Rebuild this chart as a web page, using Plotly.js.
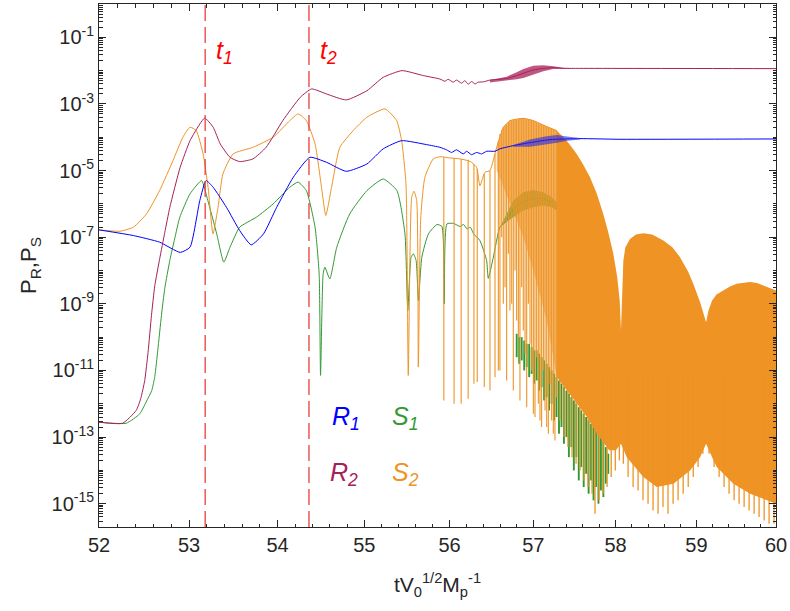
<!DOCTYPE html>
<html><head><meta charset="utf-8">
<script src="https://cdn.plot.ly/plotly-3.0.1.min.js"></script>
<style>html,body{margin:0;padding:0;background:#fff;}#chart{width:790px;height:611px;}</style>
</head><body><div id="chart"></div>
<script>
// ---------- data ----------
const markerTimes = [53.18, 54.36];
const markerNames = ['t<sub>1</sub>', 't<sub>2</sub>'];

const xTicks = [52, 53, 54, 55, 56, 57, 58, 59, 60];
const yRange = [2e-16, 1];
const yLabelExps = [-15,-13,-11,-9,-7,-5,-3,-1];

// R2
const r2T = [52.0,52.26,52.41,52.46,52.505,52.542,52.580,52.617,52.672,52.728,52.784,52.90,53.01,53.12,53.175,53.27,53.35,53.46,53.57,53.72,53.87,54.06,54.26,54.39,54.56,54.79,55.03,55.22,55.44,55.69,55.885,55.944,55.983,56.042,56.082,56.142,56.181,56.220,56.261,56.301,56.340,56.400,56.480,56.68,56.80,56.88,57.00,57.12,57.24,57.36,57.53,60.0];
const r2P = [2.8e-13,2.6e-13,6.3e-13,1.41e-12,5.0e-12,3.5e-11,4.5e-10,3.5e-9,2.3e-8,1.38e-7,7.8e-7,1.26e-5,7.9e-5,2.5e-4,3.8e-4,2.0e-4,6.3e-5,2.5e-5,1.86e-5,2.24e-5,5.0e-5,3.16e-4,1.58e-3,2.82e-3,2.0e-3,1.32e-3,2.5e-3,6.3e-3,1.0e-2,7.1e-3,5.6e-3,4.8e-3,5.5e-3,4.5e-3,5.2e-3,4.2e-3,5.0e-3,3.9e-3,4.7e-3,4.0e-3,4.5e-3,4.6e-3,5.2e-3,5.8e-3,7.1e-3,8.3e-3,1.05e-2,1.17e-2,1.23e-2,1.17e-2,1.17e-2,1.15e-2];
const r2BandT = [56.48,56.68,56.80,56.88,57.00,57.12,57.24,57.36,57.53];
const r2BandTop = [5.2e-3,6.6e-3,8.9e-3,1.12e-2,1.41e-2,1.45e-2,1.35e-2,1.23e-2,1.17e-2];
const r2BandBot = [4.4e-3,5.0e-3,5.5e-3,6.0e-3,7.6e-3,9.5e-3,1.12e-2,1.12e-2,1.17e-2];

// R1
const r1T = [52.0,52.38,52.67,52.90,53.01,53.12,53.19,53.27,53.42,53.57,53.70,53.84,53.99,54.18,54.37,54.56,54.79,55.03,55.22,55.435,55.73,55.885,55.964,56.023,56.082,56.162,56.202,56.261,56.321,56.380,56.440,56.540,56.599,56.759,56.960,57.201,57.565,58.054,60.0];
const r1P = [1.66e-7,1.12e-7,7.1e-8,3.5e-8,5.0e-8,1.26e-6,5.0e-6,3.16e-6,7.9e-7,1.58e-7,5.9e-8,1.26e-7,7.9e-7,6.3e-6,2.5e-5,1.78e-5,9.5e-6,1.58e-5,4.5e-5,7.9e-5,6.0e-5,5.0e-5,4.2e-5,3.5e-5,4.2e-5,3.16e-5,3.8e-5,3.0e-5,3.5e-5,3.16e-5,3.8e-5,3.8e-5,4.5e-5,5.6e-5,6.9e-5,8.5e-5,9.1e-5,8.7e-5,8.9e-5];
const r1BandT = [56.759,56.960,57.141,57.285,57.407,57.565];
const r1BandTop = [5.9e-5,8.5e-5,1.05e-4,1.17e-4,1.05e-4,9.5e-5];
const r1BandBot = [5.2e-5,5.2e-5,6.0e-5,6.9e-5,7.8e-5,8.5e-5];

// S1
const s1T = [52.0,52.30,52.45,52.52,52.583,52.617,52.650,52.691,52.728,52.784,52.839,52.895,53.01,53.14,53.21,53.31,53.39,53.46,53.57,53.76,53.95,54.14,54.235,54.33,54.43,54.477,54.493,54.523,54.543,54.60,54.68,54.83,55.03,55.22,55.38,55.474,55.507,55.546,55.573,55.605,55.632,55.672,55.75,55.85,55.909,55.937,55.968,56.047,56.122,56.166,56.207,56.245,56.285,56.36,56.44,56.46,56.52,56.599,56.679,56.76,56.88,57.00,57.12,57.22];
const s1P = [2.8e-13,2.6e-13,5.0e-13,1.12e-12,2.5e-12,6.6e-12,4.0e-11,4.5e-10,2.9e-9,2.0e-8,9.1e-8,3.9e-7,2.0e-6,5.0e-6,1.26e-6,1.26e-7,1.78e-8,5.0e-8,2.0e-7,4.0e-7,1.0e-6,3.16e-6,4.5e-6,2.5e-6,2.0e-7,7.9e-9,7.1e-12,7.9e-9,1.26e-8,5.6e-9,5.0e-8,5.0e-7,2.5e-6,5.6e-6,2.5e-6,1.26e-7,6.3e-10,2.5e-8,3.16e-8,2.0e-8,1.26e-9,2.5e-8,1.26e-7,2.4e-7,2.1e-7,1.0e-9,2.5e-7,2.6e-7,2.1e-7,2.4e-7,1.78e-7,2.0e-7,1.26e-7,7.9e-8,2.0e-8,5.8e-9,2.5e-8,2.0e-7,3.16e-7,7.1e-7,1.17e-6,1.45e-6,1.41e-6,1.12e-6];
const s1BandT = [56.599,56.759,56.879,57.0,57.12,57.222,57.285];
const s1BandTop = [2.0e-7,1.26e-6,2.24e-6,2.6e-6,2.24e-6,1.58e-6,1.12e-6];
const s1BandBot = [2.0e-7,4.0e-7,6.3e-7,7.9e-7,8.9e-7,7.9e-7,6.3e-7];
const s1TailT = [56.80,56.83,56.86,56.89,56.92,56.95,56.98,57.01,57.04,57.07,57.10,57.13,57.16,57.19,57.22,57.25,57.28,57.31,57.34,57.37,57.40,57.43,57.46,57.49,57.52,57.55,57.58,57.61,57.64,57.67,57.70,57.73,57.76,57.79,57.82,57.85,57.88,57.91];
const s1TailTop = [1.26e-10,1.0e-10,1.0e-10,7.9e-11,6.3e-11,6.3e-11,5.0e-11,4.0e-11,4.0e-11,3.16e-11,2.5e-11,2.0e-11,1.58e-11,1.26e-11,1.0e-11,7.9e-12,6.3e-12,5.0e-12,4.0e-12,3.16e-12,2.5e-12,2.0e-12,1.58e-12,1.26e-12,1.0e-12,7.9e-13,6.3e-13,5.0e-13,4.0e-13,3.16e-13,2.5e-13,2.0e-13,1.58e-13,1.26e-13,1.0e-13,7.9e-14,5.0e-14,3.16e-14];
const s1TailBot = [2.5e-11,1.58e-11,2.0e-11,1.0e-11,1.26e-11,6.3e-12,7.9e-12,4.0e-12,5.0e-12,2.5e-12,3.16e-12,1.26e-12,1.58e-12,6.3e-13,1.0e-12,3.16e-13,4.0e-13,1.26e-13,2.0e-13,6.3e-14,1.0e-13,2.5e-14,5.0e-14,1.0e-14,2.5e-14,5.0e-15,1.26e-14,3.16e-15,7.9e-15,2.0e-15,5.0e-15,1.26e-15,3.16e-15,1.0e-15,2.5e-15,1.58e-15,4.0e-15,7.9e-15];

// S2
const s2T = [52.0,52.23,52.38,52.525,52.67,52.82,52.93,53.01,53.08,53.157,53.213,53.268,53.325,53.38,53.495,53.72,53.95,54.14,54.235,54.33,54.43,54.504,54.554,54.62,54.716,54.87,55.03,55.24,55.377,55.435,55.486,55.513,55.553,55.58,55.612,55.631,55.66,55.708,55.807,55.885,56.003,56.122,56.241,56.32,56.36,56.42,56.48,56.56,56.64,56.72,56.80,56.88,57.00,57.16,57.285];
const s2P = [1.66e-7,1.51e-7,2.0e-7,5.0e-7,2.5e-6,2.0e-5,1.0e-4,2.0e-4,1.58e-4,3.16e-5,3.16e-6,1.26e-7,7.9e-7,7.9e-6,3.16e-5,5.0e-5,1.0e-4,3.16e-4,5.0e-4,3.16e-4,6.3e-5,3.16e-6,4.5e-7,3.16e-6,5.0e-5,1.58e-4,4.0e-4,7.1e-4,3.16e-4,7.9e-5,4.0e-6,7.1e-12,1.58e-6,2.4e-6,1.26e-6,1.26e-11,4.0e-7,6.3e-6,2.24e-5,2.6e-5,2.4e-5,2.24e-5,1.9e-5,1.26e-5,3.5e-6,8.9e-6,1.0e-5,5.0e-5,2.0e-4,3.16e-4,3.5e-4,3.7e-4,3.16e-4,2.1e-4,1.58e-4];
const s2SpikeT = [55.932,56.053,56.137,56.220,56.289,56.328,56.412,56.480,56.540,56.580,56.599,56.639,56.679,56.719,56.759,56.799,56.839,56.879,56.920,56.960,57.000,57.040,57.080,57.121,57.161,57.201,57.241,57.282,57.020,57.060,57.100,57.141,57.181,57.221,57.261,56.62,56.66,56.70,56.74,56.78,56.82,56.86,56.90,56.94,56.98];
const s2SpikeTop = [2.5e-5,2.4e-5,2.24e-5,2.1e-5,1.58e-5,1.12e-5,7.9e-6,1.0e-5,3.16e-5,7.9e-5,1.26e-4,2.0e-4,2.5e-4,3.16e-4,3.4e-4,3.5e-4,3.6e-4,3.7e-4,3.6e-4,3.4e-4,3.16e-4,2.8e-4,2.5e-4,2.3e-4,2.1e-4,1.9e-4,1.74e-4,1.58e-4,3.0e-4,2.65e-4,2.4e-4,2.2e-4,2.0e-4,1.8e-4,1.65e-4,1.66e-4,2.24e-4,2.8e-4,3.3e-4,3.5e-4,3.6e-4,3.7e-4,3.7e-4,3.5e-4,3.3e-4];
const s2SpikeBot = [1.26e-12,1.0e-12,1.0e-12,1.41e-12,4.0e-12,4.5e-12,3.16e-12,2.5e-12,6.3e-12,1.0e-11,1.0e-11,1.0e-9,5.0e-12,6.3e-10,2.5e-12,3.16e-10,1.26e-12,1.58e-10,7.9e-13,6.3e-11,5.0e-13,2.5e-11,3.16e-13,1.0e-11,2.0e-13,4.0e-12,1.26e-13,1.58e-12,4.0e-13,1.0e-12,2.0e-13,6.3e-13,1.26e-13,3.16e-13,7.9e-14,1.0e-7,3.16e-9,3.16e-8,1.0e-9,1.0e-8,1.0e-10,3.16e-9,3.16e-11,1.0e-9,1.0e-11];
const s2CapT = [56.56,56.64,56.72,56.80,56.88,57.00,57.16,57.285];
const s2CapTop = [5.0e-5,2.0e-4,3.16e-4,3.5e-4,3.7e-4,3.16e-4,2.1e-4,1.58e-4];
const s2CapBot = [1.0e-5,3.16e-6,1.0e-6,3.16e-7,1.0e-7,1.0e-8,3.16e-10,6.3e-12];
const s2LobeTopT = [57.285,57.35,57.403,57.46,57.525,57.60,57.687,57.77,57.849,57.91,57.972,58.02,58.05,58.066,58.08,58.095,58.12,58.177,58.25,58.341,58.45,58.588,58.70,58.795,58.90,58.96,59.045,59.09,59.12,59.15,59.195,59.25,59.336,59.42,59.504,59.60,59.672,59.76,59.84,59.92,60.0];
const s2LobeTop = [1.58e-4,1.12e-4,7.9e-5,5.2e-5,3.16e-5,1.58e-5,6.3e-6,2.0e-6,5.0e-7,1.41e-7,3.16e-8,6.3e-9,1.26e-9,1.58e-10,2.5e-9,2.0e-8,5.0e-8,8.9e-8,1.2e-7,1.32e-7,1.2e-7,7.9e-8,5.0e-8,2.5e-8,8.9e-9,4.0e-9,1.12e-9,5.0e-10,2.8e-10,6.3e-10,1.26e-9,1.9e-9,2.5e-9,3.3e-9,4.0e-9,4.4e-9,4.5e-9,4.2e-9,3.5e-9,3.0e-9,2.5e-9];
const s2LobeBotT = [57.285,57.407,57.529,57.650,57.772,57.921,58.004,58.066,58.137,58.341,58.506,58.713,58.92,59.045,59.12,59.195,59.253,59.462,59.672,59.883,60.0];
const s2LobeBot = [6.3e-12,2.5e-12,1.0e-12,4.0e-13,1.26e-13,4.0e-14,4.0e-14,6.3e-14,2.5e-14,6.3e-15,3.16e-15,4.0e-15,1.0e-14,2.5e-14,6.3e-14,2.5e-14,1.26e-14,4.0e-15,2.0e-15,1.26e-15,1.0e-15];
const s2CombLevel = 1e-11;
const s2CombT = [57.322,57.371,57.419,57.468,57.517,57.565,57.614,57.663,57.712,57.748,57.797,57.846,57.896,57.946,57.996,58.046,58.095,58.153,58.215,58.276,58.337,58.399,58.461,58.523,58.584,58.646,58.709,58.771,58.834,58.897,58.96,59.02,59.08,59.157,59.22,59.283,59.345,59.408,59.471,59.534,59.597,59.66,59.723,59.786,59.85,59.912,59.975];
const s2CombBot = [3.16e-13,1.0e-13,5.0e-14,2.5e-14,1.58e-14,1.0e-14,5.0e-15,3.16e-15,2.0e-15,5.0e-16,1.26e-15,2.0e-15,3.16e-15,6.3e-15,1.0e-14,2.0e-14,1.58e-14,6.3e-15,3.16e-15,2.5e-15,1.26e-15,1.0e-15,6.3e-16,5.0e-16,7.9e-16,5.0e-16,1.0e-15,1.26e-15,2.0e-15,3.16e-15,6.3e-15,1.26e-14,3.16e-14,3.16e-14,1.26e-14,6.3e-15,3.16e-15,2.0e-15,1.26e-15,1.0e-15,7.9e-16,6.3e-16,5.0e-16,4.0e-16,3.16e-16,2.5e-16,2.5e-16];

// ---------- styling ----------
const FONT = '"Liberation Sans", Arial, Helvetica, sans-serif';
const AX = '#262626';
const C = {R1:'#0000FF', R2:'#A8205A', S1:'#339933', S2:'#EE9324', mark:'#E8403C', lab:'#FF0000'};

function lineTrace(x, y, color, w) {
  return {x, y, type:'scatter', mode:'lines', line:{color, width:w, shape:'spline', smoothing:0.5}, hoverinfo:'skip', showlegend:false};
}
function bandTrace(tTop, top, tBot, bot, fill) {
  return {x: tTop.concat(tBot.slice().reverse()), y: top.concat(bot.slice().reverse()),
    type:'scatter', mode:'lines', fill:'toself', fillcolor:fill, line:{width:0, color:fill}, hoverinfo:'skip', showlegend:false};
}
function spikeTrace(t, top, bot, color, w) {
  const x = [], y = [];
  t.forEach((v, i) => { x.push(v, v, null); y.push(top[i], bot[i], null); });
  return {x, y, type:'scatter', mode:'lines', connectgaps:false, line:{color, width:w}, hoverinfo:'skip', showlegend:false};
}

const traces = [
  lineTrace(s1T, s1P, C.S1, 1),
  bandTrace(s1BandT, s1BandTop, s1BandT, s1BandBot, 'rgba(51,153,51,0.75)'),
  spikeTrace(s1TailT, s1TailTop, s1TailBot, C.S1, 1.9),
  lineTrace(s2T, s2P, C.S2, 1),
  bandTrace(s2CapT, s2CapTop, s2CapT, s2CapBot, 'rgba(238,147,36,0.55)'),
  spikeTrace(s2SpikeT, s2SpikeTop, s2SpikeBot, C.S2, 1.1),
  bandTrace(s2LobeTopT, s2LobeTop, s2LobeBotT, s2LobeBot, C.S2),
  spikeTrace(s2CombT, s2CombT.map(() => s2CombLevel), s2CombBot, C.S2, 1.3),
  lineTrace(r1T, r1P, C.R1, 1),
  bandTrace(r1BandT, r1BandTop, r1BandT, r1BandBot, 'rgba(40,40,230,0.6)'),
  lineTrace(r2T, r2P, C.R2, 1),
  bandTrace(r2BandT, r2BandTop, r2BandT, r2BandBot, 'rgba(168,32,90,0.75)')
];
markerTimes.forEach(t => {
  traces.push({x:[t, t], y:yRange, type:'scatter', mode:'lines', line:{color:C.mark, width:1.3, dash:'16px,6px'}, hoverinfo:'skip', showlegend:false});
});

const yMajor = yLabelExps.map(e => Math.pow(10, e));
const yText = yLabelExps.map(e => '10<sup>' + e + '</sup>');

const annotations = [];
markerTimes.forEach((t, i) => annotations.push({
  x: Math.log10(t), xref:'x', y:0.908, yref:'paper', xanchor:'left', yanchor:'middle', xshift:9,
  text:'<i>' + markerNames[i] + '</i>', showarrow:false, font:{family:FONT, size:25, color:C.lab}
}));
[['R<sub>1</sub>', C.R1, 0.341, 0.208], ['S<sub>1</sub>', C.S1, 0.43, 0.208],
 ['R<sub>2</sub>', C.R2, 0.338, 0.101], ['S<sub>2</sub>', C.S2, 0.43, 0.101]].forEach(a => annotations.push({
  x:a[2], xref:'paper', y:a[3], yref:'paper', xanchor:'left', yanchor:'middle',
  text:'<i>' + a[0] + '</i>', showarrow:false, font:{family:FONT, size:25, color:a[1]}
}));

const layout = {
  width:790, height:611, margin:{l:99, r:14, t:4, b:84}, paper_bgcolor:'#fff', plot_bgcolor:'#fff',
  font:{family:FONT, color:AX},
  xaxis:{type:'log', range:[Math.log10(52), Math.log10(60)], tickmode:'array', tickvals:xTicks, ticktext:xTicks.map(String),
    ticks:'inside', ticklen:7, tickwidth:1, tickcolor:AX, showline:true, linecolor:AX, linewidth:1, mirror:'ticks',
    showgrid:false, zeroline:false, tickfont:{size:20, color:AX, family:FONT},
    minor:{tick0:52, dtick:'L0.2', ticks:'inside', ticklen:3.5, tickcolor:AX, tickwidth:1, showgrid:false},
    title:{text:'tV<sub>0</sub><sup>1/2</sup>M<sub>p</sub><sup>-1</sup>', font:{size:21, color:AX, family:FONT}, standoff:22}},
  yaxis:{type:'log', range:[Math.log10(yRange[0]), Math.log10(yRange[1])], tickmode:'array', tickvals:yMajor, ticktext:yText,
    ticks:'inside', ticklen:7, tickwidth:1, tickcolor:AX, showline:true, linecolor:AX, linewidth:1, mirror:'ticks',
    showgrid:false, zeroline:false, tickfont:{size:20, color:AX, family:FONT},
    minor:{dtick:'D1', ticks:'inside', ticklen:3.5, tickcolor:AX, tickwidth:1, showgrid:false},
    title:{text:'P<sub>R</sub>,P<sub>S</sub>', font:{size:22, color:AX, family:FONT}, standoff:8}},
  annotations, showlegend:false
};
Plotly.newPlot('chart', traces, layout, {displayModeBar:false, staticPlot:true});
</script></body></html>
